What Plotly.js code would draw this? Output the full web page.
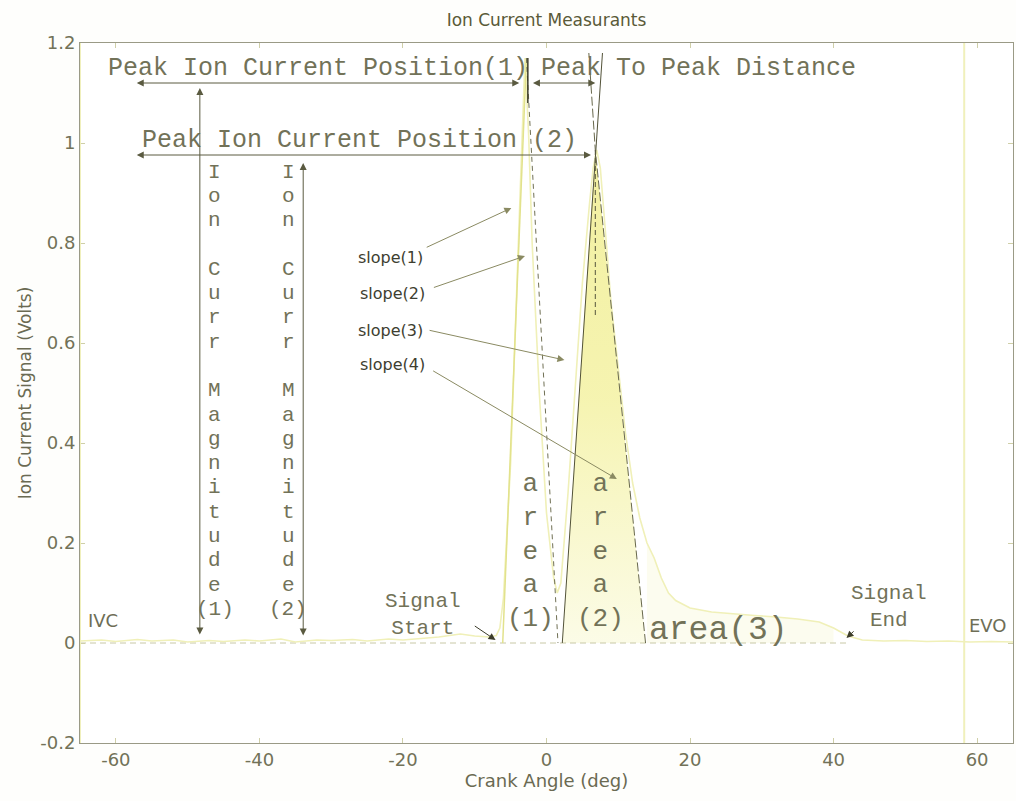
<!DOCTYPE html>
<html>
<head>
<meta charset="utf-8">
<script src="https://cdn.plot.ly/plotly-3.0.1.min.js"></script>
<style>
  html, body { margin: 0; padding: 0; background: #fefefc; }
  #chart { width: 1016px; height: 801px; }
</style>
</head>
<body>
<div id="chart"></div>
<script>
// Ion current signal over one combustion cycle (crank angle in degrees)
const crankAngle = [-65,-62,-60,-57,-55,-52,-50,-47,-45,-42,-40,-37,-35,-32,-30,-27,-25,-22,-20,-17,-15,-12,-10,-8,-7,-6.5,-6,-5,-4,-3.5,-3,-2.5,-2,-1,0,1,1.5,2,3,4,5,6,6.5,7,7.5,8,9,10,11,12,13,14,15,16,17,18,20,23,26,29,32,35,38,40,42,44,47,50,53,56,59,62,65];
const ionSignal  = [0.004,0.006,0.003,0.007,0.004,0.006,0.002,0.005,0.003,0.006,0.004,0.008,0.002,0.006,0.005,0.007,0.004,0.008,0.006,0.010,0.012,0.018,0.014,0.012,0.015,0.03,0.09,0.36,0.74,0.97,1.17,1.02,0.80,0.50,0.26,0.13,0.10,0.12,0.30,0.52,0.72,0.88,0.95,0.986,0.95,0.86,0.68,0.55,0.42,0.32,0.25,0.20,0.17,0.13,0.10,0.085,0.07,0.062,0.058,0.055,0.052,0.048,0.042,0.03,0.014,0.006,0.004,0.005,0.003,0.004,0.002,0.003,0.002];

// Peak positions and values
const peakAngle = [-2.8, 6.8];
const peakValue = [1.17, 0.986];

// Tangent (slope) lines fitted to the flanks of both peaks
const slopeNames = ['slope(1)', 'slope(2)', 'slope(3)', 'slope(4)'];
const slopeLineX = [[-6.1, -2.8], [-2.8, 1.6], [2.2, 6.8, 7.8], [13.8, 6.8, 5.9]];
const slopeLineY = [[0, 1.17], [1.17, 0], [0, 0.986, 1.18], [0, 0.986, 1.18]];

// Signal start / end and valve events
const signalStart = -7.1;
const signalEnd = 41.8;
const eventNames = ['IVC', 'EVO'];
const eventAngles = [-65, 58.2];

const xTicks = [-60, -40, -20, 0, 20, 40, 60];
const xTickText = ['-60', '-40', '-20', '0', '20', '40', '60'];
const yTicks = [-0.2, 0, 0.2, 0.4, 0.6, 0.8, 1, 1.2];
const yTickText = ['-0.2', '0', '0.2', '0.4', '0.6', '0.8', '1', '1.2'];

const mono = 'Courier New, Liberation Mono, monospace';
const sans = 'DejaVu Sans, Arial, sans-serif';
const textCol = '#727258';
const arrowCol = '#5a5a40';

const traces = [];

// area(3): tail of the signal after the second peak
const tailX = [], tailY = [];
crankAngle.forEach((a, i) => { if (a >= slopeLineX[3][0] && a <= signalEnd) { tailX.push(a); tailY.push(ionSignal[i]); } });
traces.push({ x: tailX, y: tailY, type: 'scatter', mode: 'lines', fill: 'tozeroy',
  fillcolor: 'rgba(246,246,210,0.35)', line: { width: 0 }, hoverinfo: 'skip' });

// area(2): triangle under the second peak bounded by slope(3) and slope(4)
traces.push({ x: [slopeLineX[2][0], peakAngle[1], slopeLineX[3][0], slopeLineX[2][0]],
  y: [0, peakValue[1], 0, 0], type: 'scatter', mode: 'lines', fill: 'toself',
  fillgradient: { type: 'vertical', start: 0, stop: peakValue[1],
    colorscale: [[0, 'rgba(251,251,228,0.9)'], [0.5, 'rgba(245,243,172,0.95)'], [1, 'rgba(242,240,160,1)']] },
  line: { width: 0 }, hoverinfo: 'skip' });

// zero reference line between start and end of the signal
traces.push({ x: [eventAngles[0], signalEnd], y: [0, 0], type: 'scatter', mode: 'lines',
  line: { color: '#c8c8a6', width: 1, dash: '6px,4px' }, hoverinfo: 'skip' });

// measured signal
traces.push({ x: crankAngle, y: ionSignal, type: 'scatter', mode: 'lines',
  line: { color: '#f0f0b8', width: 1.6 }, hoverinfo: 'skip' });

// slope lines
const slopeStyles = [
  { color: '#e2e28c', width: 1.5, dash: 'solid' },
  { color: '#707054', width: 1, dash: '5px,4px' },
  { color: '#525238', width: 1, dash: 'solid' },
  { color: '#68684c', width: 1, dash: '9px,3px' }
];
slopeLineX.forEach((xs, i) => {
  traces.push({ x: xs, y: slopeLineY[i], type: 'scatter', mode: 'lines', line: slopeStyles[i], hoverinfo: 'skip' });
});

// peak position markers
traces.push({ x: [peakAngle[0] + 0.2, peakAngle[0] + 0.2], y: [peakValue[0], peakValue[0] - 0.09], type: 'scatter', mode: 'lines',
  line: { color: '#3c3c28', width: 1.5 }, hoverinfo: 'skip' });
traces.push({ x: [peakAngle[1], peakAngle[1]], y: [peakValue[1], peakValue[1] - 0.33], type: 'scatter', mode: 'lines',
  line: { color: '#55553c', width: 1, dash: '5px,3px' }, hoverinfo: 'skip' });

const annotations = [];
const shapes = [];

// valve event lines and labels
eventAngles.forEach((a) => {
  shapes.push({ type: 'line', xref: 'x', yref: 'paper', x0: a, x1: a, y0: 0, y1: 1,
    line: { color: '#f0f0bc', width: 2 } });
});
annotations.push({ x: eventAngles[0] + 3.2, y: 0.046, text: eventNames[0], showarrow: false,
  font: { family: sans, size: 18, color: '#6e6e56' } });
annotations.push({ x: eventAngles[1] + 3.3, y: 0.036, text: eventNames[1], showarrow: false,
  font: { family: sans, size: 18, color: '#6e6e56' } });

// helper: arrow between two data points
function arrow(x0, y0, x1, y1, both, col, w) {
  annotations.push({ x: x1, y: y1, ax: x0, ay: y0, axref: 'x', ayref: 'y', text: '',
    showarrow: true, arrowhead: 2, arrowsize: 1.4, arrowwidth: w || 1, arrowcolor: col || arrowCol,
    arrowside: both ? 'end+start' : 'end', standoff: 0, startstandoff: 0 });
}
function label(x, y, text, size, anchor) {
  annotations.push({ x: x, y: y, text: text, showarrow: false, xanchor: anchor || 'center', yanchor: 'middle',
    font: { family: mono, size: size, color: textCol } });
}

// peak position and distance measurements
label(-61.4, 1.15, 'Peak Ion Current Position(1)', 25, 'left');
arrow(-57.3, 1.12, peakAngle[0] - 1.0, 1.12, true);
label(-1.0, 1.15, 'Peak To Peak Distance', 25, 'left');
arrow(peakAngle[0] + 0.7, 1.12, peakAngle[1], 1.12, true);
label(-56.6, 1.006, 'Peak Ion Current Position (2)', 25, 'left');
arrow(-57.3, 0.976, peakAngle[1] - 0.6, 0.976, true);

// peak magnitude measurements (vertical)
arrow(-48.3, 0.014, -48.3, 1.11, true);
arrow(-33.9, 0.012, -33.9, 0.96, true);
function verticalLabel(x, word, suffix) {
  const rows = word.split('').concat([suffix]);
  rows.forEach((ch, k) => {
    if (ch === ' ') return;
    const py = 172 + 24.3 * k;
    annotations.push({ x: x, y: (643 - py) / 500, text: ch, showarrow: false, xanchor: 'center', yanchor: 'middle',
      font: { family: mono, size: 21, color: textCol } });
  });
}
verticalLabel(-46.2, 'Ion Curr Magnitude', '(1)');
verticalLabel(-36.0, 'Ion Curr Magnitude', '(2)');

// areas
label(-2.2, 0.184, 'a<br>r<br>e<br>a<br>(1)', 26);
label(7.5, 0.184, 'a<br>r<br>e<br>a<br>(2)', 26);
label(24.0, 0.026, 'area(3)', 33);

// signal start / end
label(-17.2, 0.056, 'Signal<br>Start', 21);
arrow(-10.2, 0.036, signalStart, 0.006, false, '#3c3c2a');
label(47.7, 0.072, 'Signal<br>End', 21);
arrow(43.0, 0.026, signalEnd, 0.01, false, '#3c3c2a');

// slope labels and pointers
const slopeLabelPos = [[-21.8, 0.772], [-21.4, 0.70], [-21.8, 0.626], [-21.4, 0.558]];
const slopeTail = [[-16.9, 0.79], [-15.9, 0.71], [-16.5, 0.626], [-16.0, 0.546]];
const slopeTip = [[-4.9, 0.87], [-3.0, 0.774], [2.5, 0.566], [9.8, 0.328]];
slopeNames.forEach((n, i) => {
  annotations.push({ x: slopeLabelPos[i][0], y: slopeLabelPos[i][1], text: n, showarrow: false,
    font: { family: sans, size: 16, color: '#3e3e30' } });
  arrow(slopeTail[i][0], slopeTail[i][1], slopeTip[i][0], slopeTip[i][1], false, '#8a8a62', 1);
});

const axisFont = { family: sans, size: 18, color: '#727258' };

const layout = {
  width: 1016, height: 801,
  margin: { l: 80, r: 3, t: 43, b: 58 },
  paper_bgcolor: '#fefefc', plot_bgcolor: '#ffffff',
  showlegend: false,
  title: { text: 'Ion Current Measurants', x: 0.5, xref: 'paper', y: 0.975, yanchor: 'middle',
    font: { family: sans, size: 17, color: '#5a5a38' } },
  xaxis: { range: [-65, 65], tickvals: xTicks, ticktext: xTickText, ticks: 'inside', ticklen: 5, tickcolor: '#cfcfa8',
    showline: true, linecolor: '#9a9a86', linewidth: 1, mirror: 'ticks', showgrid: false, zeroline: false,
    tickfont: axisFont, title: { text: 'Crank Angle (deg)', font: { family: sans, size: 18, color: '#6a6a52' }, standoff: 4 } },
  yaxis: { range: [-0.2, 1.2], tickvals: yTicks, ticktext: yTickText, ticks: 'inside', ticklen: 5, tickcolor: '#cfcfa8',
    showline: true, linecolor: '#9a9a86', linewidth: 1, mirror: 'ticks', showgrid: false, zeroline: false,
    tickfont: axisFont, title: { text: 'Ion Current Signal (Volts)', font: { family: sans, size: 17, color: '#6a6a52' }, standoff: 4 } },
  shapes: shapes,
  annotations: annotations
};

Plotly.newPlot('chart', traces, layout, { displayModeBar: false, staticPlot: true });
</script>
</body>
</html>
